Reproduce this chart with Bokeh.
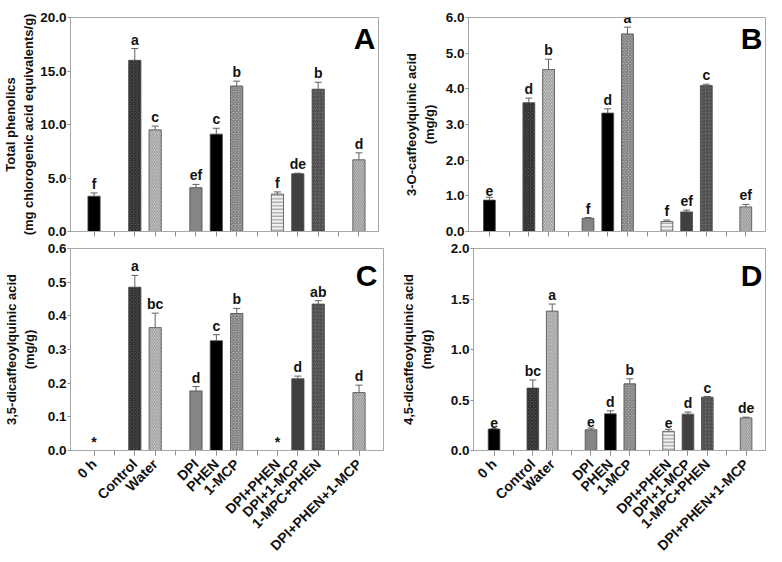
import math
from bokeh.plotting import figure
from bokeh.models import (ColumnDataSource, Range1d, FixedTicker, NumeralTickFormatter,
                          Whisker, TeeHead, Label)
from bokeh.layouts import column, row
from bokeh.embed import file_html
from bokeh.resources import INLINE
from bokeh.core.properties import value

# ---------------- data ----------------
groups = [["0 h"], ["Control", "Water"], ["DPI", "PHEN", "1-MCP"],
          ["DPI+PHEN", "DPI+1-MCP", "1-MPC+PHEN"], ["DPI+PHEN+1-MCP"]]
treatments = [t for g in groups for t in g]

total_phenolics = [3.3, 16.0, 9.5, 4.1, 9.1, 13.6, 3.5, 5.4, 13.3, 6.7]
total_phenolics_err = [0.3, 1.1, 0.35, 0.3, 0.55, 0.45, 0.2, 0.05, 0.65, 0.65]
total_phenolics_letters = ["f", "a", "c", "ef", "c", "b", "f", "de", "b", "d"]

cqa3 = [0.88, 3.61, 4.54, 0.37, 3.32, 5.54, 0.28, 0.55, 4.09, 0.69]
cqa3_err = [0.08, 0.13, 0.29, 0.02, 0.12, 0.19, 0.04, 0.05, 0.04, 0.07]
cqa3_letters = ["e", "d", "b", "f", "d", "a", "f", "ef", "c", "ef"]

dcqa35 = [0.0, 0.485, 0.365, 0.177, 0.326, 0.407, 0.0, 0.213, 0.435, 0.172]
dcqa35_err = [0.0, 0.035, 0.043, 0.013, 0.018, 0.015, 0.0, 0.008, 0.01, 0.022]
dcqa35_letters = ["*", "a", "bc", "d", "c", "b", "*", "d", "ab", "d"]

dcqa45 = [0.212, 0.618, 1.38, 0.205, 0.363, 0.66, 0.19, 0.36, 0.528, 0.323]
dcqa45_err = [0.005, 0.08, 0.07, 0.017, 0.03, 0.05, 0.02, 0.02, 0.006, 0.007]
dcqa45_letters = ["e", "bc", "a", "e", "d", "b", "e", "d", "c", "de"]

# ---------------- styles ----------------
# fill colour, hatch pattern, hatch colour
styles = {
    "0 h": ("#000000", " ", "#000000"),
    "Control": ("#555555", "x", "#222222"),
    "Water": ("#e6e6e6", "\\", "#8c8c8c"),
    "DPI": ("#858585", " ", "#858585"),
    "PHEN": ("#000000", " ", "#000000"),
    "1-MCP": ("#b4b4b4", "x", "#6e6e6e"),
    "DPI+PHEN": ("#f2f2f2", "-", "#8c8c8c"),
    "DPI+1-MCP": ("#404040", " ", "#404040"),
    "1-MPC+PHEN": ("#7a7a7a", "/", "#3c3c3c"),
    "DPI+PHEN+1-MCP": ("#d6d6d6", "\\", "#8c8c8c"),
}

# slot positions: one empty slot between groups
slot_pos = []
s = 0
for gi, g in enumerate(groups):
    if gi > 0:
        s += 1
    for t in g:
        slot_pos.append(s)
        s += 1
n_slots = s

FONT = "Liberation Sans"


def panel(width, height, x_rng, y_end, y_step, vals, errs, letters, ylabel, tag,
          borders, tag_offsets, label_standoff, show_x_labels):
    bl, br, bt, bb = borders
    p = figure(width=width, height=height, x_range=Range1d(*x_rng),
               y_range=Range1d(0, y_end), output_backend="svg", title=None,
               toolbar_location=None, min_border_left=bl, min_border_right=br,
               min_border_top=bt, min_border_bottom=bb)
    p.xgrid.visible = False
    p.ygrid.visible = False
    p.outline_line_color = "#a8a8a8"
    p.outline_line_width = 1
    p.background_fill_color = "white"
    p.border_fill_color = "white"

    fills = [styles[t][0] for t in treatments]
    hatches = [styles[t][1] for t in treatments]
    hcols = [styles[t][2] for t in treatments]
    src = ColumnDataSource(dict(x=slot_pos, top=vals, fill=fills, hatch=hatches,
                                hcol=hcols))
    p.vbar(x="x", top="top", width=0.6, source=src, fill_color="fill",
           line_color="#4a4a4a", line_width=0.8, hatch_pattern="hatch",
           hatch_color="hcol", hatch_scale=3.5, hatch_weight=1.0)

    ex = [x for x, e in zip(slot_pos, errs) if e > 0]
    elo = [v for v, e in zip(vals, errs) if e > 0]
    ehi = [v + e for v, e in zip(vals, errs) if e > 0]
    esrc = ColumnDataSource(dict(x=ex, lower=elo, upper=ehi))
    w = Whisker(source=esrc, base="x", lower="lower", upper="upper",
                dimension="height", line_color="#606060", line_width=1,
                lower_head=None,
                upper_head=TeeHead(size=7, line_color="#606060", line_width=1))
    p.add_layout(w)

    tsrc = ColumnDataSource(dict(x=slot_pos, y=[v + e for v, e in zip(vals, errs)],
                                 t=letters))
    p.text(x="x", y="y", text="t", source=tsrc, text_align="center",
           text_baseline="bottom", y_offset=-1, text_font=value(FONT),
           text_font_size="14px", text_font_style="bold", text_color="#111111")

    lab = Label(x=x_rng[1], y=y_end, x_offset=tag_offsets[0], y_offset=tag_offsets[1],
                text=tag, text_align="right", text_baseline="top", text_font=FONT,
                text_font_size="30px", text_font_style="bold", text_color="#000000")
    p.add_layout(lab)

    # y axis
    ya = p.yaxis[0]
    ya.ticker = FixedTicker(ticks=[round(i * y_step, 6)
                                   for i in range(int(round(y_end / y_step)) + 1)])
    ya.formatter = NumeralTickFormatter(format="0.0")
    ya.minor_tick_line_color = None
    ya.major_tick_in = 0
    ya.major_tick_out = 3
    ya.major_tick_line_color = "#909090"
    ya.axis_line_color = "#a8a8a8"
    ya.major_label_standoff = 1
    ya.major_label_text_font = FONT
    ya.major_label_text_font_size = "13.5px"
    ya.major_label_text_font_style = "bold"
    ya.major_label_text_color = "#111111"
    ya.axis_label = ylabel
    ya.axis_label_text_font = FONT
    ya.axis_label_text_font_size = "13px"
    ya.axis_label_text_font_style = "bold"
    ya.axis_label_text_color = "#111111"
    ya.axis_label_standoff = label_standoff

    # x axis: a tick at every slot, names under the bars only
    xa = p.xaxis[0]
    xa.minor_tick_in = 0
    xa.minor_tick_out = 5
    xa.minor_tick_line_color = "#909090"
    xa.axis_line_color = "#a8a8a8"
    if show_x_labels:
        xa.ticker = FixedTicker(ticks=slot_pos, minor_ticks=list(range(n_slots)))
        xa.major_label_overrides = {x: t for x, t in zip(slot_pos, treatments)}
        xa.major_tick_in = 0
        xa.major_tick_out = 5
        xa.major_tick_line_color = "#909090"
        xa.major_label_orientation = math.pi / 4
        xa.major_label_standoff = 6
        xa.major_label_text_font = FONT
        xa.major_label_text_font_size = "14px"
        xa.major_label_text_font_style = "bold"
        xa.major_label_text_color = "#111111"
    else:
        xa.ticker = FixedTicker(ticks=[], minor_ticks=list(range(n_slots)))
        xa.major_tick_line_color = None
        xa.major_label_standoff = 0
    return p


pA = panel(397, 240, (-1.155, 13.96), 20.0, 5.0, total_phenolics, total_phenolics_err,
           total_phenolics_letters, "Total phenolics\n(mg chlorogenic acid equivalents/g)",
           "A", (64, 19, 17, 9), (-3, -4), 1, False)
pB = panel(369, 240, (-1.06, 14.0), 6.0, 1.0, cqa3, cqa3_err, cqa3_letters,
           "3-O-caffeoylquinic acid\n(mg/g)", "B", (71, 1, 17, 9), (-3, -4), 6, False)
pC = panel(397, 322, (-1.155, 14.2), 0.6, 0.1, dcqa35, dcqa35_err, dcqa35_letters,
           "3,5-dicaffeoylquinic acid\n(mg/g)", "C", (64, 14, 8, 111), (-6, -10), 8, True)
pD = panel(369, 322, (-1.06, 14.0), 2.0, 0.5, dcqa45, dcqa45_err, dcqa45_letters,
           "4,5-dicaffeoylquinic acid\n(mg/g)", "D", (71, 1, 8, 111), (-3, -10), 14, True)

layout = column(row(pA, pB), row(pC, pD))
open("out.html", "w").write(file_html(layout, INLINE))
